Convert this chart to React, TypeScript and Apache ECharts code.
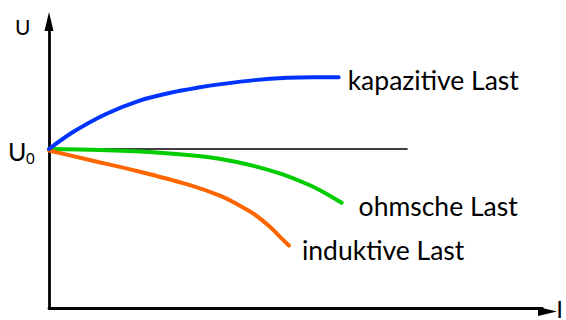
import React, { useEffect, useRef } from "react";
import * as echarts from "echarts";

// Reference voltage level (no-load voltage U0)
const U0 = 55.4;
const refLineX = [0, 72.7];

// kapazitive Last
const capName = "kapazitive Last";
const capX = [0, 4.87, 11.56, 18.24, 24.85, 30.26, 34.87, 41.68, 48.3, 53.5, 58.72];
const capY = [55.4, 61.3, 67.6, 72.2, 75.1, 76.8, 78.0, 79.4, 80.2, 80.4, 80.4];

// ohmsche Last
const ohmName = "ohmsche Last";
const ohmX = [0, 10.22, 20.24, 30.26, 38.28, 46.29, 52.3, 56.31, 59.32];
const ohmY = [55.4, 55.08, 54.39, 52.94, 50.77, 47.16, 43.2, 39.76, 36.66];

// induktive Last
const indName = "induktive Last";
const indX = [0, 8.22, 18.24, 28.26, 34.87, 38.28, 41.68, 44.95, 46.69, 48.64];
const indY = [54.9, 51.57, 47.57, 42.96, 38.97, 36.04, 32.63, 28.06, 25.03, 21.76];

const xAxisName = "I";
const yAxisName = "U";
const u0Main = "U";
const u0Sub = "0";

const FONT = "Lato";

const pair = (xs: number[], ys: number[]) => xs.map((x, i) => [x, ys[i]]);

export default function App() {
  const ref = useRef<HTMLDivElement>(null);
  useEffect(() => {
    if (!ref.current) return;
    const chart = echarts.init(ref.current, null, { renderer: "svg" });
    const axisBase = {
      type: "value" as const,
      min: 0,
      max: 100,
      splitLine: { show: false },
      axisTick: { show: false },
      axisLabel: { show: false },
      axisLine: {
        show: true,
        onZero: false,
        lineStyle: { color: "#000", width: 2.8 },
      },
    };
    const labelStyle = { fontFamily: FONT, fontSize: 26.5, color: "#000" };
    chart.setOption({
      animation: false,
      grid: { left: 49, right: 18, top: 21, bottom: 8.5 },
      xAxis: {
        ...axisBase,
        name: xAxisName,
        nameLocation: "end",
        nameGap: 14,
        nameTextStyle: { fontFamily: FONT, fontSize: 24, color: "#000" },
      },
      yAxis: { ...axisBase },
      graphic: [
        { type: "polygon", shape: { points: [[49, 12], [53.5, 31], [44.5, 31]] }, style: { fill: "#000" } },
        { type: "polygon", shape: { points: [[557, 311.5], [538, 307], [538, 316]] }, style: { fill: "#000" } },
        { type: "text", x: 15, y: 26, style: { text: yAxisName, fontFamily: FONT, fontSize: 21, fill: "#000", verticalAlign: "middle" } },
        { type: "text", x: 8, y: 151, style: { text: u0Main, fontFamily: FONT, fontSize: 25, fill: "#000", verticalAlign: "middle" } },
        { type: "text", x: 26, y: 157.5, style: { text: u0Sub, fontFamily: FONT, fontSize: 15, fill: "#000", verticalAlign: "middle" } },
      ],
      series: [
        {
          type: "line",
          data: pair(refLineX, refLineX.map(() => U0)),
          symbol: "none",
          silent: true,
          lineStyle: { color: "#000", width: 1.4 },
          z: 1,
        },
        {
          type: "line",
          name: indName,
          data: pair(indX, indY),
          smooth: 0.3,
          symbol: "none",
          lineStyle: { color: "#ff6600", width: 4, cap: "round" },
          endLabel: { show: true, formatter: "{a}", distance: 0, offset: [13, 4], ...labelStyle },
          z: 3,
        },
        {
          type: "line",
          name: ohmName,
          data: pair(ohmX, ohmY),
          smooth: 0.3,
          symbol: "none",
          lineStyle: { color: "#00cc00", width: 4, cap: "round" },
          endLabel: { show: true, formatter: "{a}", distance: 0, offset: [17, 3], ...labelStyle },
          z: 2,
        },
        {
          type: "line",
          name: capName,
          data: pair(capX, capY),
          smooth: 0.3,
          symbol: "none",
          lineStyle: { color: "#0033ff", width: 4, cap: "round" },
          endLabel: { show: true, formatter: "{a}", distance: 0, offset: [9, 3], ...labelStyle },
          z: 4,
        },
      ],
    });
    return () => chart.dispose();
  }, []);
  return (
    <div
      ref={ref}
      style={{ position: "fixed", left: 0, top: 0, width: 566, height: 320, background: "#fff" }}
    />
  );
}
